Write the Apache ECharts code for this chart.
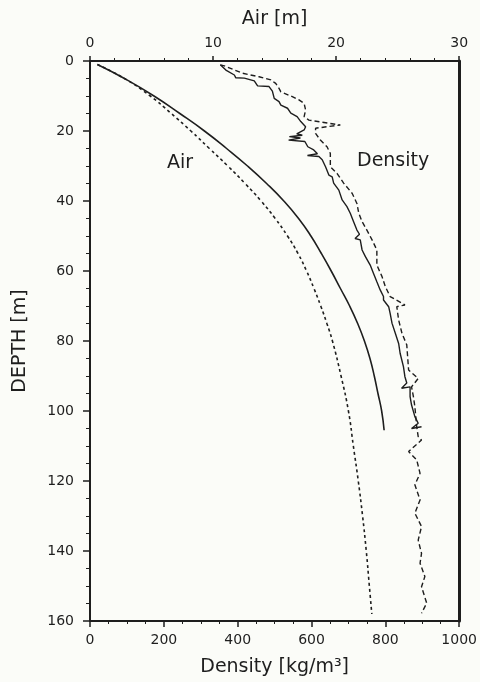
<!DOCTYPE html>
<html><head><meta charset="utf-8">
<script src="https://cdn.jsdelivr.net/npm/echarts@6/dist/echarts.min.js"></script>
<style>html,body{margin:0;padding:0;background:#fbfcf8}#c{width:480px;height:682px}</style>
</head><body><div id="c"></div>
<script>
// [air (m), depth (m)]
const airSolid = [[0.6,1],[2.8,5],[5.2,10],[7.3,15],[9.3,20],[11.1,25],[12.8,30],[14.35,35],[15.75,40],[16.95,45],[17.95,50],[18.8,55],[19.6,60],[20.35,65],[21.1,70],[21.75,75],[22.3,80],[22.75,85],[23.1,90],[23.4,95],[23.7,100],[23.9,105.5]];
const airDashed = [[0.6,1],[2.8,5],[4.9,10],[6.6,15],[8.2,20],[9.7,25],[11.2,30],[12.6,35],[13.9,40],[15.05,45],[16.05,50],[16.9,55],[17.6,60],[18.2,65],[18.75,70],[19.25,75],[19.7,80],[20.4,90],[21.0,100],[21.4,110],[21.8,120],[22.15,130],[22.45,140],[22.7,150],[22.9,158]];
// [density (kg/m3), depth (m)]
const densSolid = [[353,1.1],[368,2.6],[391,4.0],[395,4.8],[418,4.9],[445,5.7],[454,7.1],[485,7.3],[494,8.6],[499,10.7],[512,11.6],[517,12.6],[535,13.5],[544,14.9],[561,15.9],[571,17.3],[584,18.8],[580,19.7],[560,20.8],[575,21.2],[540,21.6],[570,22.0],[538,22.6],[582,23.0],[590,24.5],[606,25.4],[616,26.5],[589,27.0],[620,27.3],[629,28.2],[638,30.2],[647,32.6],[656,33.1],[660,34.9],[674,36.9],[683,39.7],[696,41.6],[705,43.5],[714,45.9],[723,48.3],[730,49.5],[718,50.7],[732,51.1],[737,54],[746,55.9],[759,58.3],[768,60.7],[777,63.1],[786,65.4],[795,67.3],[795,68.3],[809,70.2],[813,72.1],[818,74.9],[827,77.8],[836,80.7],[840,83.5],[849,87.3],[853,90.2],[858,92.0],[844,93.5],[867,93.1],[867,95.9],[871,98.3],[880,101.6],[889,103.5],[871,105],[898,104.5]];
const densDashed = [[353,1.1],[364,1.4],[413,3.5],[458,4.5],[490,5.4],[503,6.4],[512,7.8],[517,8.8],[548,10.2],[566,11.1],[580,12.1],[584,14],[580,15.9],[593,16.9],[678,18.3],[611,19.2],[611,20.7],[624,22.6],[642,24.5],[651,26.4],[651,28.3],[651,30.2],[669,32.1],[687,34.9],[710,37.8],[723,40.7],[728,43.5],[737,45.9],[750,48.3],[764,51.1],[777,54],[777,55.9],[777,58.3],[791,61.6],[800,64.5],[813,67.3],[853,69.7],[831,70.2],[836,74],[845,77.8],[858,81.1],[863,88.3],[889,90.7],[871,93.1],[876,95.9],[880,98.8],[885,104.5],[889,107.3],[898,108.3],[863,111.6],[885,114],[894,117.8],[880,121.1],[894,125.4],[880,129.2],[898,133],[889,136.9],[898,140.7],[894,143.5],[907,147.3],[898,150.2],[912,154.9],[898,157.8]];
const depthTicks = [0,20,40,60,80,100,120,140,160];
const densTicks = [0,200,400,600,800,1000];
const airTicks = [0,10,20,30];

const F = 'DejaVu Sans';
const C = '#1e1e1e';
const chart = echarts.init(document.getElementById('c'));
const lineBase = {type:'line', showSymbol:false, symbol:'none', animation:false};
chart.setOption({
  backgroundColor:'#fbfcf8',
  grid:{left:90,right:19,top:61,bottom:61},
  xAxis:[
    {type:'value', position:'bottom', min:0, max:1000, interval:200,
     name:'Density [kg/m³]', nameLocation:'middle', nameGap:37,
     nameTextStyle:{fontFamily:F,fontSize:19,color:C},
     axisLine:{onZero:false,lineStyle:{color:C,width:2}},
     axisTick:{length:6,lineStyle:{color:C,width:1.5}},
     minorTick:{show:true,splitNumber:4,length:3,lineStyle:{color:C}},
     axisLabel:{fontFamily:F,fontSize:14,color:C,margin:12,formatter:v=>densTicks.includes(v)?String(v):''},
     splitLine:{show:false}},
    {type:'value', position:'top', min:0, max:30, interval:10,
     name:'Air [m]', nameLocation:'middle', nameGap:32,
     nameTextStyle:{fontFamily:F,fontSize:19,color:C},
     axisLine:{onZero:false,lineStyle:{color:C,width:2}},
     axisTick:{length:5,lineStyle:{color:C,width:1.5}},
     minorTick:{show:true,splitNumber:5,length:3,lineStyle:{color:C}},
     axisLabel:{fontFamily:F,fontSize:14,color:C,margin:11,formatter:v=>airTicks.includes(v)?String(v):''},
     splitLine:{show:false}}
  ],
  yAxis:[
    {type:'value', inverse:true, min:0, max:160, interval:20, position:'left',
     name:'DEPTH [m]', nameLocation:'middle', nameGap:60,
     nameTextStyle:{fontFamily:F,fontSize:19,color:C},
     axisLine:{onZero:false,lineStyle:{color:C,width:2}},
     axisTick:{length:7,lineStyle:{color:C,width:1.5}},
     minorTick:{show:true,splitNumber:4,length:4,lineStyle:{color:C}},
     axisLabel:{fontFamily:F,fontSize:14,color:C,margin:16,formatter:v=>depthTicks.includes(v)?String(v):''},
     splitLine:{show:false}},
    {type:'value', inverse:true, min:0, max:160, position:'right',
     axisLine:{show:true,onZero:false,lineStyle:{color:C,width:3}},
     axisTick:{show:false}, axisLabel:{show:false}, splitLine:{show:false}}
  ],
  graphic:[
    {type:'text', left:167, top:154, style:{text:'Air', font:'19px "DejaVu Sans"', fill:C}},
    {type:'text', left:357, top:152, style:{text:'Density', font:'19px "DejaVu Sans"', fill:C}}
  ],
  series:[
    Object.assign({}, lineBase, {name:'airSolid', xAxisIndex:1, yAxisIndex:0, data:airSolid, smooth:true, lineStyle:{color:C,width:1.6}}),
    Object.assign({}, lineBase, {name:'airDashed', xAxisIndex:1, yAxisIndex:0, data:airDashed, smooth:true, lineStyle:{color:C,width:1.6,type:[3,3]}}),
    Object.assign({}, lineBase, {name:'densSolid', xAxisIndex:0, yAxisIndex:0, data:densSolid, lineStyle:{color:C,width:1.4}}),
    Object.assign({}, lineBase, {name:'densDashed', xAxisIndex:0, yAxisIndex:0, data:densDashed, lineStyle:{color:C,width:1.4,type:[5,3]}})
  ]
});
</script></body></html>
